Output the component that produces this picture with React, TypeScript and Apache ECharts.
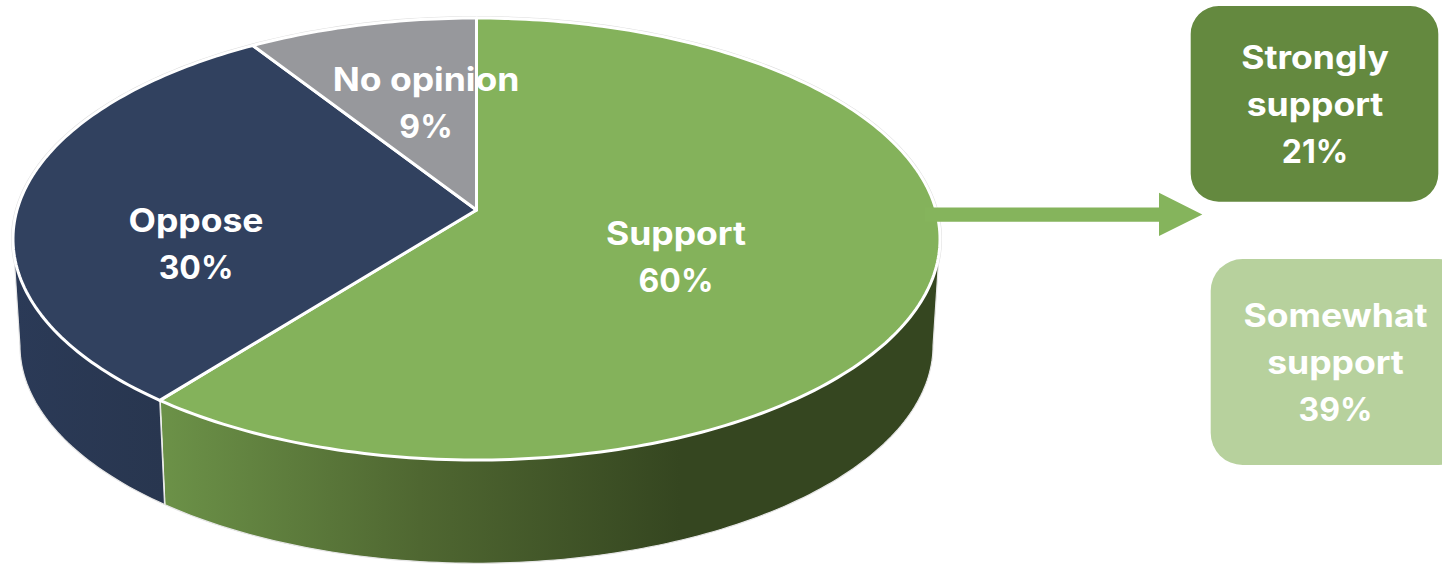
import React, { useEffect, useRef } from "react";
import * as echarts from "echarts";

const categories = ["Support", "Oppose", "No opinion"];
const shares = [60, 30, 9];
const breakdownNames = [
  ["Strongly", "support"],
  ["Somewhat", "support"],
];
const breakdownShares = [21, 39];

const topColors = ["#84B25B", "#31415F", "#97989C"];
const wallStops = [
  [
    [0, "#6C9248"],
    [0.5, "#4F6731"],
    [1, "#354620"],
  ],
  [
    [0, "#2B3A57"],
    [1, "#28364F"],
  ],
  [
    [0, "#77787B"],
    [1, "#77787B"],
  ],
];
const labelAnchors = [
  [676, 257],
  [196, 244],
  [426, 103],
];

const FONT_FAMILY = 'Inter, "Open Sans", "Noto Sans", sans-serif';
const LABEL_FONT = `700 32px ${FONT_FAMILY}`;
const LINE_HEIGHT = 47;
const WORD_STRETCH = 1.11;

// Perspective projection of the pie's disc.
const CX = 476.5;
const TOP_CY = 210;
const BOTTOM_CY = 317;
const BOTTOM_SCALE = 0.985;
const A = 459.5;
const B = 217.2;
const K = 0.1312;
const HORIZON_Y = Math.acos(-K);
const RIGHT_EDGE = HORIZON_Y;
const LEFT_EDGE = 2 * Math.PI - HORIZON_Y;

const total = shares.reduce((s, v) => s + v, 0);

function project(theta: number, cy: number, scale: number): number[] {
  const X = Math.sin(theta);
  const Y = Math.cos(theta);
  const w = 1 + K * Y;
  return [CX + (scale * A * X) / w, cy - (scale * B * Y) / w];
}

function arc(from: number, to: number, cy: number, scale: number): number[][] {
  const steps = Math.max(2, Math.ceil((Math.abs(to - from) * 180) / Math.PI));
  const pts: number[][] = [];
  for (let i = 0; i <= steps; i++) {
    pts.push(project(from + ((to - from) * i) / steps, cy, scale));
  }
  return pts;
}

function sliceRange(index: number): number[] {
  let before = 0;
  for (let i = 0; i < index; i++) before += shares[i];
  const start = (before / total) * 2 * Math.PI;
  const end = ((before + shares[index]) / total) * 2 * Math.PI;
  return [start, end];
}

function textLine(text: string, x: number, y: number, stretch: number, z: any) {
  return {
    type: "text",
    x,
    y,
    scaleX: stretch,
    ...z,
    style: {
      text,
      x: 0,
      y: 0,
      align: "center",
      verticalAlign: "middle",
      fill: "#ffffff",
      font: LABEL_FONT,
    },
  };
}

function renderWall(params: any) {
  const i = params.dataIndex;
  const [start, end] = sliceRange(i);
  const children: any[] = [];
  if (i === 0) {
    children.push({
      type: "polygon",
      shape: { points: arc(0, 2 * Math.PI, TOP_CY, 1) },
      style: { fill: "#ffffff", stroke: "#DEDEDE", lineWidth: 4 },
    });
  }
  const from = Math.max(start, RIGHT_EDGE);
  const to = Math.min(end, LEFT_EDGE);
  if (to > from) {
    const top = arc(from, to, TOP_CY, 1);
    const bottom = arc(to, from, BOTTOM_CY, BOTTOM_SCALE);
    const xs = top.concat(bottom).map((p) => p[0]);
    const x0 = Math.min(...xs);
    const x1 = i === 0 ? 680 : Math.max(...xs);
    children.push({
      type: "polygon",
      shape: { points: top.concat(bottom) },
      style: {
        fill: new echarts.graphic.LinearGradient(
          x0,
          0,
          x1,
          0,
          wallStops[i].map((s) => ({ offset: s[0] as number, color: s[1] as string })),
          true
        ),
        stroke: "#E6E6E6",
        lineWidth: 1.2,
        lineJoin: "round",
      },
    });
    const seamTop = project(end, TOP_CY, 1);
    const seamBottom = project(end, BOTTOM_CY, BOTTOM_SCALE);
    if (end < LEFT_EDGE) {
      children.push({
        type: "line",
        shape: { x1: seamTop[0], y1: seamTop[1], x2: seamBottom[0], y2: seamBottom[1] },
        style: { stroke: "#ffffff", lineWidth: 2 },
      });
    }
  }
  return { type: "group", children };
}

function renderTop(params: any, api: any) {
  const i = params.dataIndex;
  const [start, end] = sliceRange(i);
  const apex = [CX, TOP_CY];
  const value = api.value(0);
  const [lx, ly] = labelAnchors[i];
  return {
    type: "group",
    children: [
      {
        type: "polygon",
        shape: { points: [apex].concat(arc(start, end, TOP_CY, 1)) },
        style: { fill: topColors[i], stroke: "#ffffff", lineWidth: 3, lineJoin: "round" },
      },
      textLine(categories[i], lx, ly - LINE_HEIGHT / 2, WORD_STRETCH, { z2: 10 }),
      textLine(`${value}%`, lx, ly + LINE_HEIGHT / 2, 1, { z2: 10 }),
    ],
  };
}

export default function App() {
  const ref = useRef<HTMLDivElement>(null);

  useEffect(() => {
    if (!ref.current) return;
    const chart = echarts.init(ref.current, undefined, { renderer: "svg" });
    const boxLines = (index: number, x: number, y: number) => [
      textLine(breakdownNames[index][0], x, y - LINE_HEIGHT, WORD_STRETCH, { z: 12 }),
      textLine(breakdownNames[index][1], x, y, WORD_STRETCH, { z: 12 }),
      textLine(`${breakdownShares[index]}%`, x, y + LINE_HEIGHT, 1, { z: 12 }),
    ];
    chart.setOption({
      animation: false,
      backgroundColor: "#ffffff",
      series: [
        {
          type: "custom",
          coordinateSystem: "none",
          z: 1,
          silent: true,
          renderItem: renderWall,
          data: shares,
        },
        {
          type: "custom",
          coordinateSystem: "none",
          z: 2,
          silent: true,
          renderItem: renderTop,
          data: shares,
        },
      ],
      graphic: {
        elements: [
          {
            type: "polygon",
            z: 10,
            shape: {
              points: [
                [925, 207.5],
                [1159, 207.5],
                [1159, 192.7],
                [1202.3, 214.5],
                [1159, 236],
                [1159, 221.7],
                [925, 221.7],
              ],
            },
            style: { fill: "#85B45C" },
          },
          {
            type: "rect",
            z: 10,
            shape: { x: 1190.7, y: 6, width: 247.6, height: 195.7, r: 28 },
            style: { fill: "#64893F" },
          },
          {
            type: "rect",
            z: 10,
            shape: { x: 1210.7, y: 259, width: 260, height: 206, r: 32 },
            style: { fill: "#B7D19D" },
          },
          ...boxLines(0, 1315, 104),
          ...boxLines(1, 1335.5, 362),
        ],
      },
    });
    return () => chart.dispose();
  }, []);

  return (
    <div
      ref={ref}
      style={{ position: "fixed", left: 0, top: 0, width: 1442, height: 564 }}
    />
  );
}
